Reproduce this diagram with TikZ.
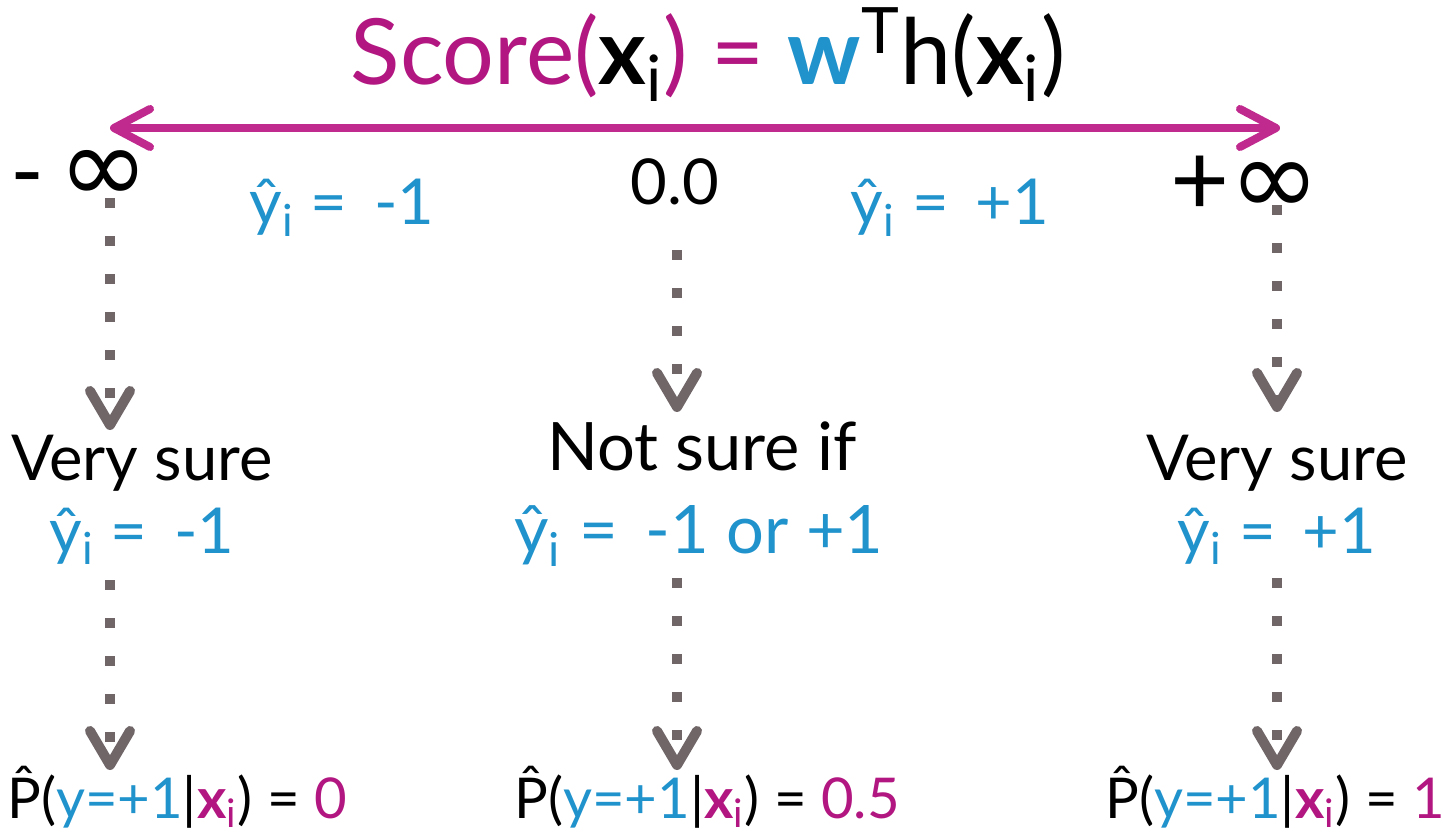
\documentclass[tikz,border=0pt]{standalone}
\usepackage{fontspec}
\setmainfont{Lato}
\newfontfamily\symfont{DejaVu Sans}
\usepackage{tikz}
\usetikzlibrary{arrows.meta}
\definecolor{scoreM}{RGB}{178,22,128}
\definecolor{arrowM}{RGB}{192,42,142}
\definecolor{predB}{RGB}{32,146,204}
\definecolor{dotG}{RGB}{112,102,104}

\tikzset{
  lbl/.style={inner sep=0pt, anchor=base},
  dotarrow/.style={dotG, line width=1mm, dash pattern=on 1mm off 2.8mm,
    -{Straight Barb[length=3.4mm, width=4mm, line width=1mm, round]}},
}
\newcommand{\phat}{\^{P}}
\newcommand{\sub}[1]{\textsubscript{#1}}
\newcommand{\infsym}{{\fontsize{31}{31}\selectfont\symfont ∞}}

\begin{document}
\begin{tikzpicture}[x=0.01cm, y=-0.01cm]
    \useasboundingbox (0,0) rectangle (1443,840);
    \def\xL{110}
    \def\xM{677}
    \def\xR{1277}

    % score line
    \node[lbl] (title) at (708,85) {\fontsize{26}{30}\selectfont
      \textcolor{scoreM}{Score(}\textbf{x}\sub{i}\textcolor{scoreM}{) = }%
      \textcolor{predB}{\textbf{w}}\textsuperscript{T}h(\textbf{x}\sub{i})};
    \coordinate (aL) at (110,128);
    \coordinate (aR) at (1280,128);
    \draw[arrowM, line width=0.8mm,
      {Straight Barb[length=3.6mm, width=3.8mm, line width=0.8mm, round]}-{Straight Barb[length=3.6mm, width=3.8mm, line width=0.8mm, round]}]
      (aL) -- (aR);

    \node[lbl, anchor=base east] (minf) at (150,204) {\fontsize{26}{28}\selectfont -\hspace{4pt}\infsym};
    \node[lbl, anchor=base west] (pinf) at (1170,216) {\fontsize{29}{32}\selectfont +\infsym};
    \node[lbl, text=predB] (yneg) at (342,225) {\fontsize{18}{22}\selectfont ŷ\sub{i} = \,-1};
    \node[lbl] (zero) at (675,205) {\fontsize{18}{22}\selectfont 0.0};
    \node[lbl, text=predB] (ypos) at (950,225) {\fontsize{18}{22}\selectfont ŷ\sub{i} = \,+1};

    % middle row
    \node[lbl] (lsure) at (142,480) {\fontsize{18}{22}\selectfont Very sure};
    \node[lbl, text=predB] (lhat) at (142,553) {\fontsize{18}{22}\selectfont ŷ\sub{i} = \,-1};
    \node[lbl] (msure) at (702,470) {\fontsize{19}{23}\selectfont Not sure if};
    \node[lbl, text=predB] (mhat) at (699,553) {\fontsize{19}{23}\selectfont ŷ\sub{i} = \,-1 or +1};
    \node[lbl] (rsure) at (1277,480) {\fontsize{18}{22}\selectfont Very sure};
    \node[lbl, text=predB] (rhat) at (1277,553) {\fontsize{18}{22}\selectfont ŷ\sub{i} = \,+1};

    % probabilities
    \node[lbl] (lprob) at (177,818) {\fontsize{16}{20}\selectfont
      \phat(\textcolor{predB}{y=+1}|\textcolor{scoreM}{\textbf{x}\sub{i}}) = \textcolor{scoreM}{0}};
    \node[lbl] (mprob) at (707,818) {\fontsize{16}{20}\selectfont
      \phat(\textcolor{predB}{y=+1}|\textcolor{scoreM}{\textbf{x}\sub{i}}) = \textcolor{scoreM}{0.5}};
    \node[lbl] (rprob) at (1275,818) {\fontsize{16}{20}\selectfont
      \phat(\textcolor{predB}{y=+1}|\textcolor{scoreM}{\textbf{x}\sub{i}}) = \textcolor{scoreM}{1}};

    % dotted arrows
    \coordinate (l1) at (\xL,198);  \coordinate (l2) at (\xL,430);
    \coordinate (m1) at (\xM,250);  \coordinate (m2) at (\xM,412);
    \coordinate (r1) at (\xR,205);  \coordinate (r2) at (\xR,412);
    \coordinate (l3) at (\xL,580);  \coordinate (l4) at (\xL,770);
    \coordinate (m3) at (\xM,578);  \coordinate (m4) at (\xM,770);
    \coordinate (r3) at (\xR,578);  \coordinate (r4) at (\xR,770);
    \draw[dotarrow] (l1) -- (l2);
    \draw[dotarrow] (m1) -- (m2);
    \draw[dotarrow] (r1) -- (r2);
    \draw[dotarrow] (l3) -- (l4);
    \draw[dotarrow] (m3) -- (m4);
    \draw[dotarrow] (r3) -- (r4);
\end{tikzpicture}
\end{document}
